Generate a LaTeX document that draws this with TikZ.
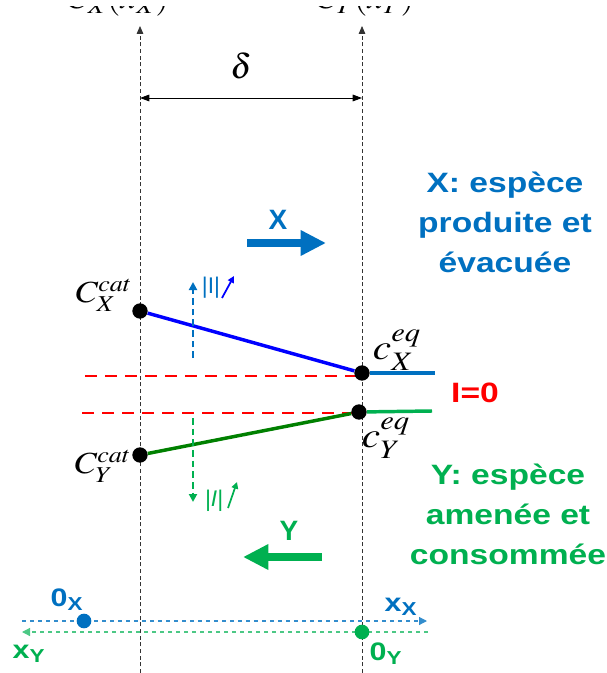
\documentclass[tikz,border=0pt]{standalone}
\usepackage{mathptmx}
\usepackage{fontspec}
\setsansfont{Liberation Sans}
\newfontfamily\wsans[FakeStretch=1.2]{Liberation Sans}
\usetikzlibrary{arrows.meta}
\definecolor{tblue}{RGB}{0,112,192}
\definecolor{tgreen}{RGB}{0,176,80}
\definecolor{dgreen}{RGB}{0,128,0}
\tikzset{
  vline/.style={densely dashed, line width=0.6pt, black!80},
  dot/.style={circle, fill=#1, inner sep=0pt, minimum size=11.5pt},
  bigtxt/.style={font=\wsans\bfseries\fontsize{21}{30}\selectfont, align=center, inner sep=0pt},
  arrtxt/.style={font=\sffamily\bfseries\fontsize{21}{25}\selectfont, inner sep=0pt},
  mlab/.style={font=\fontsize{23}{25}\selectfont, inner sep=0pt},
  axlab/.style={font=\wsans\bfseries\fontsize{19}{21}\selectfont, inner sep=0pt},
  fat/.style={line width=6.7pt, -{Triangle[width=18pt,length=19pt]}},
}
\begin{document}
\begin{tikzpicture}[x=0.75pt,y=-0.75pt]
\useasboundingbox (0,0) rectangle (606,673);
\clip (0,0) rectangle (606,673);
% vertical dashed lines
\coordinate (vLb) at (140,673); \coordinate (vLt) at (140,26);
\coordinate (vRb) at (362,673); \coordinate (vRt) at (362,26);
\draw[vline,-{Triangle[width=5pt,length=6pt]}] (vLb) -- (vLt);
\draw[vline,-{Triangle[width=5pt,length=6pt]}] (vRb) -- (vRt);
\begin{scope}
\clip (0,7) rectangle (606,30);
\node[mlab, anchor=base] (topL) at (118,9) {\scalebox{1.15}[1]{$C_X(x_X)$}};
\node[mlab, anchor=base] (topR) at (365,9) {\scalebox{1.15}[1]{$C_Y(x_Y)$}};
\end{scope}
% delta
\node[mlab, font=\fontsize{26}{28}\selectfont] (delta) at (241,66) {$\delta$};
\coordinate (dL) at (140,98); \coordinate (dR) at (362,98);
\draw[line width=0.7pt, {Triangle[width=5pt,length=7pt]}-{Triangle[width=5pt,length=7pt]}] (dL) -- (dR);
% X arrow
\coordinate (xa1) at (247,243); \coordinate (xa2) at (326,243);
\draw[fat, tblue] (xa1) -- (xa2);
\node[arrtxt, text=tblue] (Xl) at (278,220) {X};
% Y arrow
\coordinate (ya1) at (322,557); \coordinate (ya2) at (243,557);
\draw[fat, tgreen] (ya1) -- (ya2);
\node[arrtxt, text=tgreen] (Yl) at (289,531) {Y};
% side texts
\node[bigtxt, text=tblue] (Xtxt) at (505,222) {X: espèce\\produite et\\évacuée};
\node[bigtxt, text=tgreen] (Ytxt) at (508,514) {Y: espèce\\amenée et\\consommée};
\node[bigtxt, text=red] (I0) at (475,393) {I=0};
% red dashed
\coordinate (r1a) at (85,376); \coordinate (r1b) at (362,376);
\coordinate (r2a) at (82,413); \coordinate (r2b) at (362,413);
\draw[red, line width=2pt, dash pattern=on 9pt off 6pt] (r1a) -- (r1b);
\draw[red, line width=2pt, dash pattern=on 9pt off 6pt] (r2a) -- (r2b);
% profiles
\node[dot=black] (cxc) at (140,311) {};
\node[dot=black] (cxe) at (362,373) {};
\node[dot=black] (cyc) at (140,455) {};
\node[dot=black] (cye) at (359,412) {};
\coordinate (bxe) at (435,373); \coordinate (bye) at (432,411);
\draw[blue, line width=2.6pt] (cxc) -- (cxe);
\draw[tblue, line width=2.6pt] (cxe) -- (bxe);
\draw[dgreen, line width=2.6pt] (cyc) -- (cye);
\draw[tgreen, line width=2.6pt] (cye) -- (bye);
\node[mlab] (Lcxc) at (104,295) {\scalebox{1.15}[1]{$C_X^{cat}$}};
\node[mlab] (Lcyc) at (103,466) {\scalebox{1.15}[1]{$C_Y^{cat}$}};
\node[mlab, font=\fontsize{27}{29}\selectfont] (Lcxe) at (397,350) {\scalebox{1.15}[1]{$c_X^{eq}$}};
\node[mlab, font=\fontsize{27}{29}\selectfont] (Lcye) at (386,438) {\scalebox{1.15}[1]{$c_Y^{eq}$}};
% current arrows
\coordinate (ia1) at (193,358); \coordinate (ia2) at (193,282);
\draw[tblue, line width=1.5pt, dash pattern=on 5pt off 3pt, -{Triangle[width=6pt,length=6pt]}] (ia1) -- (ia2);
\node[font=\sffamily\fontsize{17}{19}\selectfont, text=tblue, inner sep=0pt] (Iup) at (211,288) {|I|};
\coordinate (iu1) at (222,298); \coordinate (iu2) at (234,276);
\draw[blue, line width=1.3pt, -{Triangle[width=5pt,length=5pt]}] (iu1) -- (iu2);
\coordinate (ib1) at (193,418); \coordinate (ib2) at (193,502);
\draw[tgreen, line width=1.5pt, dash pattern=on 5pt off 3pt, -{Triangle[width=6pt,length=6pt]}] (ib1) -- (ib2);
\node[font=\sffamily\itshape\fontsize{17}{19}\selectfont, text=tgreen, inner sep=0pt] (Idn) at (214,501) {|I|};
\coordinate (id1) at (228,508); \coordinate (id2) at (237,482);
\draw[tgreen, line width=1.3pt, -{Triangle[width=5pt,length=5pt]}] (id1) -- (id2);
% bottom axes
\coordinate (axa) at (22,621); \coordinate (axb) at (427,621);
\coordinate (aya) at (428,632); \coordinate (ayb) at (22,632);
\draw[tblue!80, line width=0.9pt, dashed, -{Triangle[width=6pt,length=6pt]}] (axa) -- (axb);
\draw[tgreen!70, line width=0.9pt, dashed, -{Triangle[width=6pt,length=6pt]}] (aya) -- (ayb);
\node[dot=tblue, minimum size=11pt] (o1) at (84,621) {};
\node[dot=tgreen, minimum size=11pt] (o2) at (362,632) {};
\node[axlab, text=tblue] (l0x) at (67,600) {0\textsubscript{X}};
\node[axlab, text=tblue] (lxx) at (401,607) {x\textsubscript{X}};
\node[axlab, text=tgreen] (l0y) at (386,654) {0\textsubscript{Y}};
\node[axlab, text=tgreen] (lxy) at (29,654) {x\textsubscript{Y}};
\end{tikzpicture}
\end{document}
